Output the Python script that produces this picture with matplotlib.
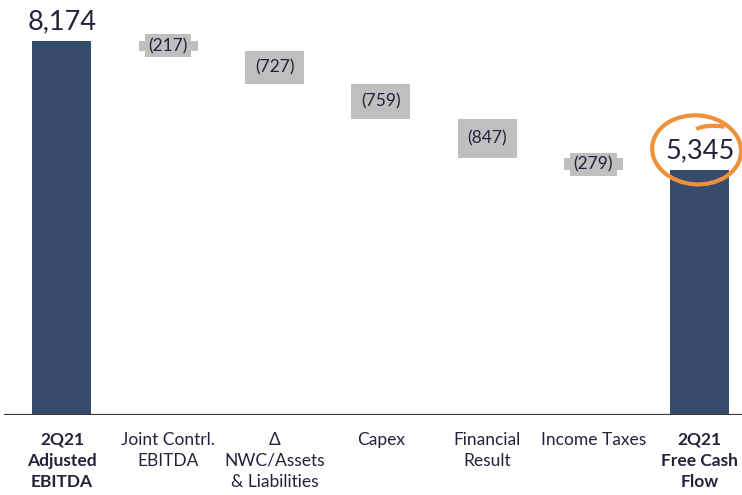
import matplotlib
matplotlib.use("Agg")
import matplotlib.pyplot as plt
from matplotlib.patches import Ellipse, Arc
from matplotlib.transforms import ScaledTranslation

# waterfall data (R$ million)
categories = ["2Q21\nAdjusted\nEBITDA", "Joint Contrl.\nEBITDA", "Δ\nNWC/Assets\n& Liabilities",
              "Capex", "Financial\nResult", "Income Taxes", "2Q21\nFree Cash\nFlow"]
start_value = 8174
deltas = [-217, -727, -759, -847, -279]
end_value = 5345
delta_labels = ["(217)", "(727)", "(759)", "(847)", "(279)"]

NAVY = "#374b6c"
GRAY = "#bfbfbf"
TXT = "#22223a"
ORANGE = "#f0913a"

plt.rcParams["font.family"] = ["Lato", "DejaVu Sans"]

fig = plt.figure(figsize=(7.42, 4.95), dpi=100)
ax = fig.add_axes([0, 80 / 495, 1, 415 / 495])
w = 0.555

# totals
last = len(categories) - 1
ax.bar(0, start_value, width=w, color=NAVY)
ax.bar(last, end_value, width=w, color=NAVY)
ax.text(0, start_value + 150, f"{start_value:,}", ha="center", va="bottom", fontsize=19.5, color=TXT)
ax.text(last, end_value + 150, f"{end_value:,}", ha="center", va="bottom", fontsize=19.5, color=TXT)

# floating decreases
level = start_value
for i, (d, lab) in enumerate(zip(deltas, delta_labels), start=1):
    ax.bar(i, d, bottom=level, width=w, color=GRAY)
    ax.text(i, level + d / 2, lab, ha="center", va="center", fontsize=12.5, color=TXT,
            bbox=dict(boxstyle="square,pad=0.2", fc=GRAY, ec="none"))
    level += d

# baseline
ax.axhline(0, xmin=0.007, xmax=1, color="#3a3a3a", lw=1.6)

# hand-drawn highlight around the final value (sized in inches, anchored on the bar)
anchor = fig.dpi_scale_trans + ScaledTranslation(last - 0.03, end_value + 450, ax.transData)
ax.add_patch(Ellipse((0, 0), 0.89, 0.69, angle=-4, fill=False, ec=ORANGE, lw=3,
                     transform=anchor, clip_on=False))
ax.add_patch(Arc((0.17, 0.19), 0.36, 0.1, theta1=20, theta2=175, ec=ORANGE, lw=3,
                 transform=anchor, clip_on=False))

ax.set_xlim(-0.583, 6.397)
ax.set_ylim(0, 9070)
ax.set_yticks([])
ax.set_xticks(range(len(categories)))
ax.set_xticklabels(categories, fontsize=12.5, color=TXT, linespacing=1.4)
for k in (0, last):
    ax.get_xticklabels()[k].set_fontweight("bold")
ax.tick_params(axis="x", length=0, pad=12)
for s in ax.spines.values():
    s.set_visible(False)

fig.savefig("out.png", dpi=100, facecolor="white")
